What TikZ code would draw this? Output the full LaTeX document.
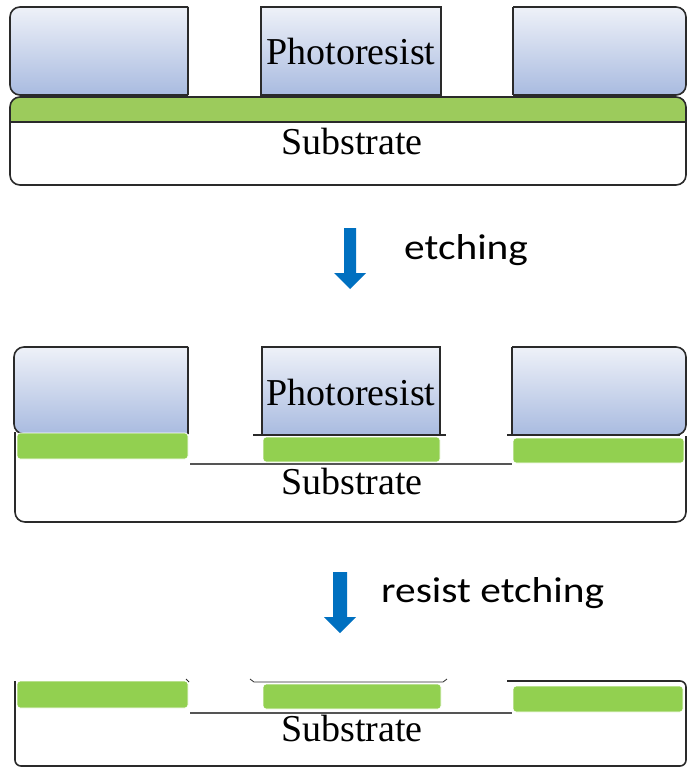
\documentclass[tikz,border=0pt]{standalone}
\usepackage{fontspec}
\setmainfont{Liberation Serif}
\newfontfamily\calib{Carlito}
\definecolor{resistTop}{HTML}{EEF1F8}
\definecolor{resistBot}{HTML}{A9BBE0}
\definecolor{padgreen}{HTML}{92D050}
\definecolor{layergreen}{HTML}{9CCB5C}
\definecolor{edgegray}{HTML}{2A2A2A}
\definecolor{linegray}{HTML}{555555}
\definecolor{arrowblue}{HTML}{0070C0}
\tikzset{
  edge/.style={draw=edgegray, line width=1.6pt},
  resist/.style={edge, top color=resistTop, bottom color=resistBot},
  pad/.style={fill=padgreen, draw=white, line width=0.8pt, rounded corners=3pt},
  surf/.style={draw=linegray, line width=1.6pt},
  lbl/.style={font=\fontsize{38}{40}\selectfont, inner sep=0pt},
  steplbl/.style={font=\calib\fontsize{36}{40}\selectfont, inner sep=0pt, anchor=base west, xscale=1.15},
  bluearrow/.style={fill=arrowblue}
}
\begin{document}
\begin{tikzpicture}[x=1pt,y=-1pt]
\useasboundingbox (0,0) rectangle (687,768);
% ---------- Stage 1 ----------
\begin{scope}
  \clip (0,0) rectangle (188,100);
  \path[resist, rounded corners=10pt] (10,7) rectangle (240,95);
\end{scope}
\draw[edge] (188,7) -- (188,95);
\path[resist] (261,7) rectangle (441,95);
\begin{scope}
  \clip (513,0) rectangle (700,100);
  \path[resist, rounded corners=10pt] (460,7) rectangle (686,95);
\end{scope}
\draw[edge] (513,7) -- (513,95);
\begin{scope}
  \clip[rounded corners=10pt] (10,97) rectangle (686,185);
  \fill[layergreen] (0,90) rectangle (700,122);
  \draw[edge] (0,122) -- (700,122);
\end{scope}
\draw[edge, rounded corners=10pt] (10,97) rectangle (686,185);
\node[lbl] (pr1) at (351,52) {Photoresist};
\node[lbl] (sub1) at (352,142) {Substrate};
% ---------- Arrow 1 ----------
\fill[bluearrow] (344,228) -- (356,228) -- (356,273) -- (366,273) -- (350,289) -- (334,273) -- (344,273) -- cycle;
\node[steplbl] (etch) at (404,259) {etching};
% ---------- Stage 2 ----------
\begin{scope}
  \clip (0,340) rectangle (188,440);
  \path[resist, rounded corners=10pt] (14,347) rectangle (240,434);
\end{scope}
\draw[edge] (188,347) -- (188,434);
\path[resist] (262,347) rectangle (440,435);
\draw[edge] (253,435) -- (446,435);
\begin{scope}
  \clip (512,340) rectangle (700,440);
  \path[resist, rounded corners=10pt] (460,347) rectangle (686,435);
\end{scope}
\draw[edge] (512,347) -- (512,435);
\draw[edge] (507,435) -- (680,435);
\draw[edge, rounded corners=10pt] (15,432) -- (15,522) -- (686,522) -- (686,436);
\draw[surf] (190,464) -- (512,464);
\fill[pad] (17,433) rectangle (188,459);
\fill[pad] (263,437) rectangle (440,462);
\fill[pad] (513,438) rectangle (684,463);
\node[lbl] (pr2) at (351,392) {Photoresist};
\node[lbl] (sub2) at (352,481) {Substrate};
% ---------- Arrow 2 ----------
\fill[bluearrow] (333,572) -- (347,572) -- (347,617) -- (356,617) -- (340,633) -- (324,617) -- (333,617) -- cycle;
\node[steplbl] (retch) at (381,602) {resist etching};
% ---------- Stage 3 ----------
\draw[edge, line width=0.8pt] (250,679) -- (254,682) -- (443,682) -- (447,679);
\draw[edge, line width=0.8pt] (186,679) -- (189,682);
\draw[edge, rounded corners=6pt] (507,681) -- (686,681) -- (686,766) -- (15,766) -- (15,681);
\draw[surf] (190,713) -- (512,713);
\fill[pad] (17,681) rectangle (188,708);
\fill[pad] (263,684) rectangle (441,709);
\fill[pad] (513,686) rectangle (683,712);
\node[lbl] (sub3) at (352,728) {Substrate};
\end{tikzpicture}
\end{document}
